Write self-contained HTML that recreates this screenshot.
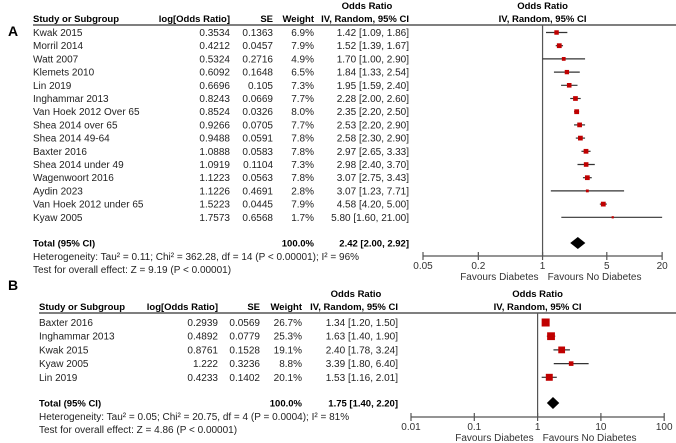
<!DOCTYPE html>
<html><head><meta charset="utf-8"><style>
body{margin:0;background:#fff}
svg{display:block;font-family:"Liberation Sans",Arial,sans-serif}
</style></head><body>
<svg id="chart" width="676" height="443" viewBox="0 0 676 443">
<g id="A"></g>
<g id="B"></g>
</svg>
<script>
// Panel A data
const namesA=["Kwak 2015","Morril 2014","Watt 2007","Klemets 2010","Lin 2019","Inghammar 2013","Van Hoek 2012 Over 65","Shea 2014 over 65","Shea 2014 49-64","Baxter 2016","Shea 2014 under 49","Wagenwoort 2016","Aydin 2023","Van Hoek 2012 under 65","Kyaw 2005"];
const lorA=["0.3534","0.4212","0.5324","0.6092","0.6696","0.8243","0.8524","0.9266","0.9488","1.0888","1.0919","1.1223","1.1226","1.5223","1.7573"];
const seA=["0.1363","0.0457","0.2716","0.1648","0.105","0.0669","0.0326","0.0705","0.0591","0.0583","0.1104","0.0563","0.4691","0.0445","0.6568"];
const wA=[6.9,7.9,4.9,6.5,7.3,7.7,8.0,7.7,7.8,7.8,7.3,7.8,2.8,7.9,1.7];
const orA=[1.42,1.52,1.70,1.84,1.95,2.28,2.35,2.53,2.58,2.97,2.98,3.07,3.07,4.58,5.80];
const loA=[1.09,1.39,1.00,1.33,1.59,2.00,2.20,2.20,2.30,2.65,2.40,2.75,1.23,4.20,1.60];
const hiA=[1.86,1.67,2.90,2.54,2.40,2.60,2.50,2.90,2.90,3.33,3.70,3.43,7.71,5.00,21.00];
const totalA=[2.42,2.00,2.92];
const ticksA=[0.05,0.2,1,5,20];
// Panel B data
const namesB=["Baxter 2016","Inghammar 2013","Kwak 2015","Kyaw 2005","Lin 2019"];
const lorB=["0.2939","0.4892","0.8761","1.222","0.4233"];
const seB=["0.0569","0.0779","0.1528","0.3236","0.1402"];
const wB=[26.7,25.3,19.1,8.8,20.1];
const orB=[1.34,1.63,2.40,3.39,1.53];
const loB=[1.20,1.40,1.78,1.80,1.16];
const hiB=[1.50,1.90,3.24,6.40,2.01];
const totalB=[1.75,1.40,2.20];
const ticksB=[0.01,0.1,1,10,100];

const NS="http://www.w3.org/2000/svg";
const FS=10;
function mk(parent,tag,attrs,text){const e=document.createElementNS(NS,tag);for(const k in attrs)e.setAttribute(k,attrs[k]);if(text!==undefined)e.textContent=text;parent.appendChild(e);return e;}
function fmt(v){return v.toFixed(2);}

function panel(g,cfg){
  const xs=v=>cfg.x0+(Math.log10(v)-Math.log10(cfg.tmin))*cfg.pxDec;
  let t;
  t=mk(g,"text",{x:cfg.letterX,y:cfg.letterY,"font-size":14,"font-weight":"bold"},cfg.letter);
  
  
  const hdr=[["Study or Subgroup",cfg.cStudy,"start"],["log[Odds Ratio]",cfg.cLog,"end"],["SE",cfg.cSe,"end"],["Weight",cfg.cW,"end"],["IV, Random, 95% CI",cfg.cCi,"end"]];
  hdr.forEach(h=>{t=mk(g,"text",{x:h[1],y:cfg.hY,"font-size":FS-0.5,"font-weight":"bold","text-anchor":h[2]},h[0]);
    
    });
  t=mk(g,"text",{x:cfg.cCi-42,y:cfg.hY-13,"font-size":FS-0.5,"font-weight":"bold","text-anchor":"middle"},"Odds Ratio");
  
  
  const mid=xs(1);
  t=mk(g,"text",{x:mid,y:cfg.hY-13,"font-size":FS-0.5,"font-weight":"bold","text-anchor":"middle"},"Odds Ratio");
  
  
  t=mk(g,"text",{x:mid,y:cfg.hY,"font-size":FS-0.5,"font-weight":"bold","text-anchor":"middle"},"IV, Random, 95% CI");
  
  
  let l=mk(g,"line",{x1:cfg.cStudy,x2:676,y1:cfg.lineY,y2:cfg.lineY,stroke:"#333","stroke-width":1.3});
  
  
  l=mk(g,"line",{x1:mid,x2:mid,y1:cfg.lineY,y2:cfg.axisY,stroke:"#555","stroke-width":1.2});
  
  
  cfg.names.forEach((n,i)=>{
    const y=cfg.row0+i*cfg.step;
    const vals=[[n,cfg.cStudy,"start"],[cfg.lor[i],cfg.cLog,"end"],[cfg.se[i],cfg.cSe,"end"],[cfg.w[i].toFixed(1)+"%",cfg.cW,"end"],[fmt(cfg.or[i])+" ["+fmt(cfg.lo[i])+", "+fmt(cfg.hi[i])+"]",cfg.cCi,"end"]];
    vals.forEach(v=>{const e=mk(g,"text",{x:v[1],y:y+3.5,"font-size":FS,fill:"#222","text-anchor":v[2]},v[0]);
      
      });
    const x1=Math.max(xs(cfg.lo[i]),xs(cfg.tmin)),x2=Math.min(xs(cfg.hi[i]),xs(cfg.tmax));
    const ci=mk(g,"line",{x1:x1,x2:x2,y1:y,y2:y,stroke:"#333","stroke-width":1.2});
    
    
    const s=cfg.k*Math.sqrt(cfg.w[i]);
    const r=mk(g,"rect",{x:xs(cfg.or[i])-s/2,y:y-s/2,width:s,height:s,fill:"#c00000"});
    
    
  });
  const ty=cfg.totalY;
  [["Total (95% CI)",cfg.cStudy,"start"],["100.0%",cfg.cW,"end"],[fmt(cfg.total[0])+" ["+fmt(cfg.total[1])+", "+fmt(cfg.total[2])+"]",cfg.cCi,"end"]].forEach(v=>{
    const e=mk(g,"text",{x:v[1],y:ty+3.5,"font-size":FS-0.5,"font-weight":"bold","text-anchor":v[2]},v[0]);
    
    });
  const d=mk(g,"polygon",{points:`${xs(cfg.total[1])},${ty} ${xs(cfg.total[0])},${ty-6} ${xs(cfg.total[2])},${ty} ${xs(cfg.total[0])},${ty+6}`,fill:"#000"});
  
  
  t=mk(g,"text",{x:cfg.cStudy,y:ty+17,"font-size":FS,fill:"#222"},cfg.het);
  
  
  t=mk(g,"text",{x:cfg.cStudy,y:ty+30,"font-size":FS,fill:"#222"},cfg.test);
  
  
  const ay=cfg.axisY;
  l=mk(g,"line",{x1:xs(cfg.tmin),x2:xs(cfg.tmax),y1:ay,y2:ay,stroke:"#555","stroke-width":1.3});
  
  
  cfg.ticks.forEach(tv=>{
    const x=xs(tv);
    const tk=mk(g,"line",{x1:x,x2:x,y1:ay-4,y2:ay+4,stroke:"#555","stroke-width":1.2});
    
    
    const tl=mk(g,"text",{x:x,y:ay+13,"font-size":FS,fill:"#333","text-anchor":"middle"},String(tv));
    
    
  });
  t=mk(g,"text",{x:mid-4,y:ay+24,"font-size":FS,fill:"#333","text-anchor":"end"},"Favours Diabetes");
  
  
  t=mk(g,"text",{x:mid+5,y:ay+24,"font-size":FS,fill:"#333","text-anchor":"start"},"Favours No Diabetes");
  
  
}

panel(document.getElementById("A"),{letter:"A",letterX:8,letterY:36,cStudy:33,cLog:230,cSe:273,cW:314,cCi:409,hY:22,lineY:25,
  row0:32.5,step:13.2,names:namesA,lor:lorA,se:seA,w:wA,or:orA,lo:loA,hi:hiA,total:totalA,totalY:243,k:1.7,
  het:"Heterogeneity: Tau² = 0.11; Chi² = 362.28, df = 14 (P < 0.00001); I² = 96%",
  test:"Test for overall effect: Z = 9.19 (P < 0.00001)",
  x0:423,tmin:0.05,tmax:20,pxDec:91.9,ticks:ticksA,axisY:256});
panel(document.getElementById("B"),{letter:"B",letterX:8,letterY:290,cStudy:39,cLog:218,cSe:260,cW:302,cCi:398,hY:310,lineY:313,
  row0:322.5,step:13.7,names:namesB,lor:lorB,se:seB,w:wB,or:orB,lo:loB,hi:hiB,total:totalB,totalY:403,k:1.55,
  het:"Heterogeneity: Tau² = 0.05; Chi² = 20.75, df = 4 (P = 0.0004); I² = 81%",
  test:"Test for overall effect: Z = 4.86 (P < 0.00001)",
  x0:411,tmin:0.01,tmax:100,pxDec:63.3,ticks:ticksB,axisY:417});
</script>
</body></html>
